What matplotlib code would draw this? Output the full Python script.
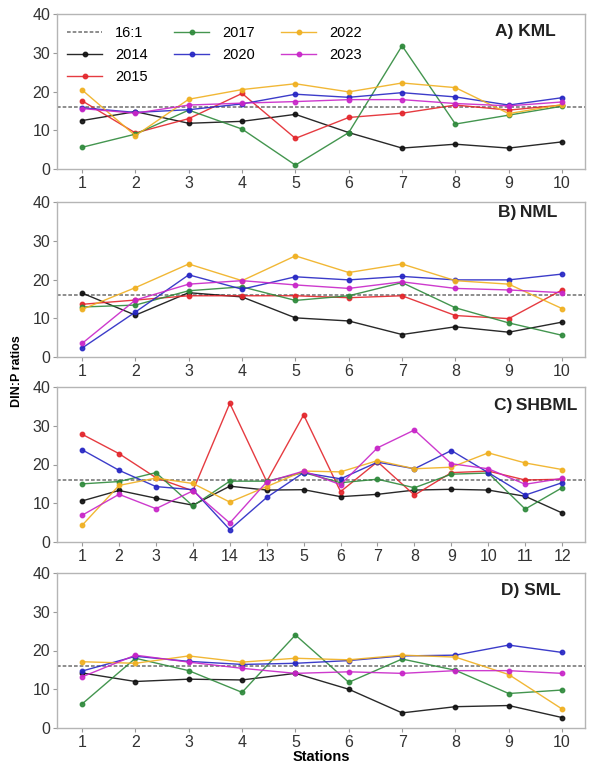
import numpy as np
import matplotlib
matplotlib.use('Agg')
import matplotlib.pyplot as plt

plt.rcParams['font.family'] = ['Liberation Sans', 'DejaVu Sans']

#---------------------Data----------------------

stations_10 = ['1', '2', '3', '4', '5', '6', '7', '8', '9', '10']
stations_c = ['1', '2', '3', '4', '14', '13', '5', '6', '7', '8', '9', '10', '11', '12']

years = ['2014', '2015', '2017', '2020', '2022', '2023']
colors = ['#111111', '#e3262c', '#2f8a3c', '#2727c4', '#f0b020', '#c825c8']

redfield = 16

# A) KML
kml_2014 = [12.5, 14.8, 11.8, 12.3, 14.1, 9.4, 5.4, 6.4, 5.4, 7.0]
kml_2015 = [17.6, 9.3, 13.0, 19.5, 7.9, 13.3, 14.4, 16.5, 15.2, 16.5]
kml_2017 = [5.6, 9.0, 15.2, 10.3, 1.0, 9.4, 31.8, 11.6, 13.9, 16.2]
kml_2020 = [15.8, 14.6, 15.3, 16.8, 19.3, 18.5, 19.7, 18.6, 16.5, 18.4]
kml_2022 = [20.4, 8.6, 18.0, 20.5, 22.0, 19.9, 22.2, 21.0, 14.3, 16.6]
kml_2023 = [15.6, 14.4, 16.5, 17.0, 17.4, 17.9, 17.9, 16.9, 16.3, 17.3]

# B) NML
nml_2014 = [16.5, 10.8, 16.6, 15.5, 10.1, 9.3, 5.8, 7.8, 6.4, 9.0]
nml_2015 = [13.6, 14.7, 15.8, 15.8, 15.8, 15.3, 15.8, 10.7, 9.9, 17.3]
nml_2017 = [12.9, 13.4, 17.1, 18.1, 14.6, 15.8, 19.2, 12.7, 8.8, 5.6]
nml_2020 = [2.3, 11.6, 21.2, 17.5, 20.7, 19.9, 20.8, 19.9, 19.9, 21.4]
nml_2022 = [12.3, 17.9, 24.0, 19.7, 26.1, 21.8, 24.0, 19.7, 18.8, 12.5]
nml_2023 = [3.5, 14.7, 18.8, 19.7, 18.6, 17.7, 19.4, 17.7, 17.3, 16.6]

# C) SHBML
shb_2014 = [10.6, 13.3, 11.3, 9.5, 14.4, 13.4, 13.5, 11.7, 12.3, 13.4, 13.6, 13.4, 11.8, 7.5]
shb_2015 = [27.8, 22.8, 16.6, 13.2, 35.8, 15.6, 32.8, 13.0, 20.7, 12.1, 17.9, 18.3, 16.0, 16.2]
shb_2017 = [15.0, 15.6, 17.9, 9.3, 15.7, 15.7, 17.9, 15.3, 16.2, 14.0, 17.5, 17.8, 8.5, 14.0]
shb_2020 = [23.8, 18.5, 14.3, 13.5, 3.2, 11.5, 17.9, 16.3, 20.6, 18.9, 23.6, 17.9, 12.1, 15.3]
shb_2022 = [4.3, 14.6, 16.5, 15.1, 10.3, 14.3, 18.3, 18.1, 21.0, 18.9, 19.3, 23.0, 20.4, 18.7]
shb_2023 = [6.9, 12.3, 8.6, 13.2, 4.9, 15.5, 18.3, 14.8, 24.3, 28.9, 20.2, 18.9, 14.9, 16.4]

# D) SML (no 2015 samples)
sml_2014 = [14.2, 12.0, 12.6, 12.4, 14.1, 10.0, 3.9, 5.5, 5.8, 2.7]
sml_2017 = [6.2, 18.0, 14.8, 9.2, 24.0, 11.8, 17.8, 14.9, 8.9, 9.8]
sml_2020 = [14.7, 18.5, 17.2, 16.4, 16.7, 17.4, 18.6, 18.8, 21.4, 19.5]
sml_2022 = [17.1, 16.7, 18.6, 17.0, 18.0, 17.6, 18.8, 18.3, 13.8, 4.9]
sml_2023 = [13.2, 18.8, 17.0, 15.4, 14.1, 14.5, 14.1, 14.8, 14.8, 14.1]

panels = [
    ('A) KML', stations_10, [kml_2014, kml_2015, kml_2017, kml_2020, kml_2022, kml_2023]),
    ('B)\u2009NML', stations_10, [nml_2014, nml_2015, nml_2017, nml_2020, nml_2022, nml_2023]),
    ('C)\u2009SHBML', stations_c, [shb_2014, shb_2015, shb_2017, shb_2020, shb_2022, shb_2023]),
    ('D) SML', stations_10, [sml_2014, None, sml_2017, sml_2020, sml_2022, sml_2023]),
]

#------------------------------------------------

fig = plt.figure(figsize=(5.9, 7.64), dpi=100)

left = 57 / 590
width = (585 - 57) / 590
tops = [14, 202, 387, 573]
height = 155 / 764

# title placement per panel (axes fraction)
title_x = [0.945, 0.948, 0.985, 0.955]
title_y = [0.885, 0.935, 0.88, 0.885]

axes = []
for k, (title, stations, series) in enumerate(panels):
    ax = fig.add_axes([left, 1 - (tops[k] + 155) / 764, width, height])
    axes.append(ax)
    x = np.arange(len(stations))

    ax.axhline(redfield, color='#7a7a7a', linestyle=(0, (2.2, 1.2)), linewidth=1.2,
               label='16:1', zorder=1)
    for year, col, vals in zip(years, colors, series):
        if vals is None:
            ax.plot([], [], color=col, marker='o', markersize=3.2, linewidth=1.0, label=year)
            continue
        ax.plot(x, vals, color=col, marker='o', markersize=3.2, linewidth=1.0,
                alpha=0.9, label=year, zorder=2)

    n = len(stations)
    if n == 10:
        ax.set_xlim(-0.47, 9.43)
    else:
        ax.set_xlim(-0.68, 13.62)
    ax.set_ylim(0, 40)
    ax.set_yticks([0, 10, 20, 30, 40])
    ax.set_xticks(x)
    ax.set_xticklabels(stations)

    for s in ax.spines.values():
        s.set_color('#b5b5b5')
        s.set_linewidth(1.0)
    ax.tick_params(axis='both', labelsize=11.5, labelcolor='#333333', color='#9a9a9a',
                   length=3, width=0.8, pad=2)

    ax.text(title_x[k], title_y[k], title, transform=ax.transAxes, ha='right', va='center',
            fontsize=12.5, fontweight='bold', color='#222222')

# Legend only in the first panel
axes[0].legend(loc='upper left', ncol=3, frameon=False, fontsize=10.5,
               handlelength=2.4, handletextpad=0.9, columnspacing=1.8,
               labelspacing=0.55, borderaxespad=0.3, bbox_to_anchor=(0.0, 0.99))

axes[-1].set_xlabel('Stations', fontsize=10.5, fontweight='bold', labelpad=0)
fig.text(17 / 590, 1 - 371 / 764, 'DIN:P ratios', rotation=90, ha='center', va='center',
         fontsize=9, fontweight='bold')

plt.savefig('out.png', dpi=100)
